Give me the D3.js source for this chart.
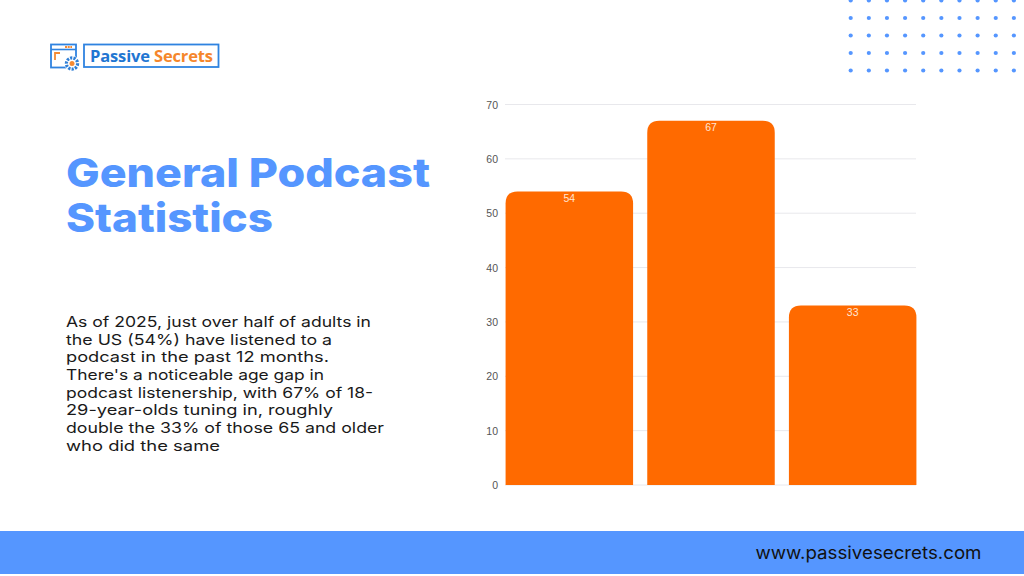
<!DOCTYPE html>
<html><head><meta charset="utf-8">
<script src="https://cdnjs.cloudflare.com/ajax/libs/d3/7.8.5/d3.min.js"></script>
<style>html,body{margin:0;padding:0;background:#fff}svg{display:block}</style></head>
<body><svg id="c" width="1024" height="576"></svg>
<script>
const categories = ["All adults", "18-29", "65+"];
const values = [54, 67, 33];
const yTicks = [0, 10, 20, 30, 40, 50, 60, 70];
const titleLines = ["General Podcast", "Statistics"];
const bodyLines = ["As of 2025, just over half of adults in","the US (54%) have listened to a","podcast in the past 12 months.","There's a noticeable age gap in","podcast listenership, with 67% of 18-","29-year-olds tuning in, roughly","double the 33% of those 65 and older","who did the same"];
const bodyWidths = [305, 266, 263, 258, 307, 267, 318, 154];
const dotCols = d3.range(10), dotRows = d3.range(5);

const svg = d3.select("#c");
const FONT = "Inter, 'Open Sans', sans-serif";
const BLUE = "#5596ff", ORANGE = "#ff6a00";

// dot pattern
svg.append("g").selectAll("circle").data(dotRows.flatMap(r => dotCols.map(c => [c, r]))).join("circle")
  .attr("cx", d => 850.7 + d[0] * 18.13).attr("cy", d => 0.5 + d[1] * 17.5).attr("r", 2.1).attr("fill", BLUE);

// footer
svg.append("rect").attr("x", 0).attr("y", 531).attr("width", 1024).attr("height", 43).attr("fill", BLUE);
svg.append("text").attr("x", 755.5).attr("y", 558.5).attr("font-family", FONT).attr("font-size", 17.5).attr("font-weight", 400)
  .attr("fill", "#111").attr("textLength", 226).attr("lengthAdjust", "spacingAndGlyphs").text("www.passivesecrets.com");

// logo
const logo = svg.append("g");
logo.append("rect").attr("x", 51).attr("y", 44.5).attr("width", 25).attr("height", 23).attr("fill", "#fff").attr("stroke", "#2f83e0").attr("stroke-width", 1.8);
logo.append("line").attr("x1", 51).attr("x2", 76).attr("y1", 49.5).attr("y2", 49.5).attr("stroke", "#2f83e0").attr("stroke-width", 1.6);
logo.append("path").attr("d", "M65 47H72").attr("stroke", "#f58a33").attr("stroke-width", 2).attr("stroke-dasharray", "2 .7");
logo.append("path").attr("d", "M55 60V53H60").attr("fill", "none").attr("stroke", "#f58a33").attr("stroke-width", 1.8);
logo.append("circle").attr("cx", 72).attr("cy", 63.5).attr("r", 7.8).attr("fill", "#fff");
logo.append("circle").attr("cx", 72).attr("cy", 63.5).attr("r", 5.6).attr("fill", "#fff").attr("stroke", "#2f7fd6").attr("stroke-width", 3.2).attr("stroke-dasharray", "2.2 1.2");
logo.append("circle").attr("cx", 72).attr("cy", 63.5).attr("r", 2.5).attr("fill", "#f58a33");
logo.append("rect").attr("x", 84).attr("y", 44.5).attr("width", 134.5).attr("height", 22.5).attr("fill", "#fff").attr("stroke", "#2f83e0").attr("stroke-width", 1.8);
const logoText = logo.append("text").attr("x", 90).attr("y", 62).attr("font-family", "'Open Sans', sans-serif").attr("font-size", 16.5).attr("font-weight", 700).attr("textLength", 123);
logoText.append("tspan").attr("fill", "#1f76d2").text("Passive ");
logoText.append("tspan").attr("fill", "#f5862b").text("Secrets");

// title
svg.append("g").selectAll("text").data(titleLines).join("text")
  .attr("x", 66).attr("y", (d, i) => 187 + i * 44.5)
  .attr("font-family", FONT).attr("font-weight", 800).attr("font-size", 40).attr("fill", BLUE)
  .attr("textLength", (d, i) => [364, 207][i]).attr("lengthAdjust", "spacingAndGlyphs").text(d => d);

// body
svg.append("g").selectAll("text").data(bodyLines).join("text")
  .attr("x", 66).attr("y", (d, i) => 327 + i * 17.65)
  .attr("font-family", FONT).attr("font-size", 14.5).attr("fill", "#1a1a1a")
  .attr("textLength", (d, i) => bodyWidths[i]).attr("lengthAdjust", "spacingAndGlyphs").text(d => d);

// chart
const y = d3.scaleLinear().domain([0, 70]).range([485, 104.5]);
const x = d3.scaleBand().domain(categories).range([498.5, 923.5]).paddingInner(0.1).paddingOuter(0.05);

svg.append("g").selectAll("line").data(yTicks).join("line")
  .attr("x1", 505).attr("x2", 916).attr("y1", d => y(d)).attr("y2", d => y(d))
  .attr("stroke", "#e8e8ec").attr("stroke-width", 1);

const yAxis = d3.axisLeft(y).tickValues(yTicks).tickSize(0).tickPadding(0);
const ga = svg.append("g").attr("transform", "translate(498,0)").call(yAxis);
ga.select(".domain").remove();
ga.selectAll("text").attr("font-family", "'Liberation Sans', Arial, sans-serif").attr("font-size", 10.5).attr("fill", "#555").attr("dy", "0.34em");

const r = 12;
svg.append("g").selectAll("path").data(categories).join("path")
  .attr("fill", ORANGE)
  .attr("d", (c, i) => {
    const x0 = x(c), x1 = x0 + x.bandwidth(), t = y(values[i]), b = y(0);
    return `M${x0},${b}V${t + r}Q${x0},${t} ${x0 + r},${t}H${x1 - r}Q${x1},${t} ${x1},${t + r}V${b}Z`;
  });
svg.append("g").selectAll("text").data(categories).join("text")
  .attr("x", c => x(c) + x.bandwidth() / 2).attr("y", (c, i) => y(values[i]) + 10.5)
  .attr("text-anchor", "middle").attr("font-family", "'Liberation Sans', Arial, sans-serif").attr("font-size", 10.5).attr("fill", "#ffe6d5")
  .text((c, i) => values[i]);
</script></body></html>
